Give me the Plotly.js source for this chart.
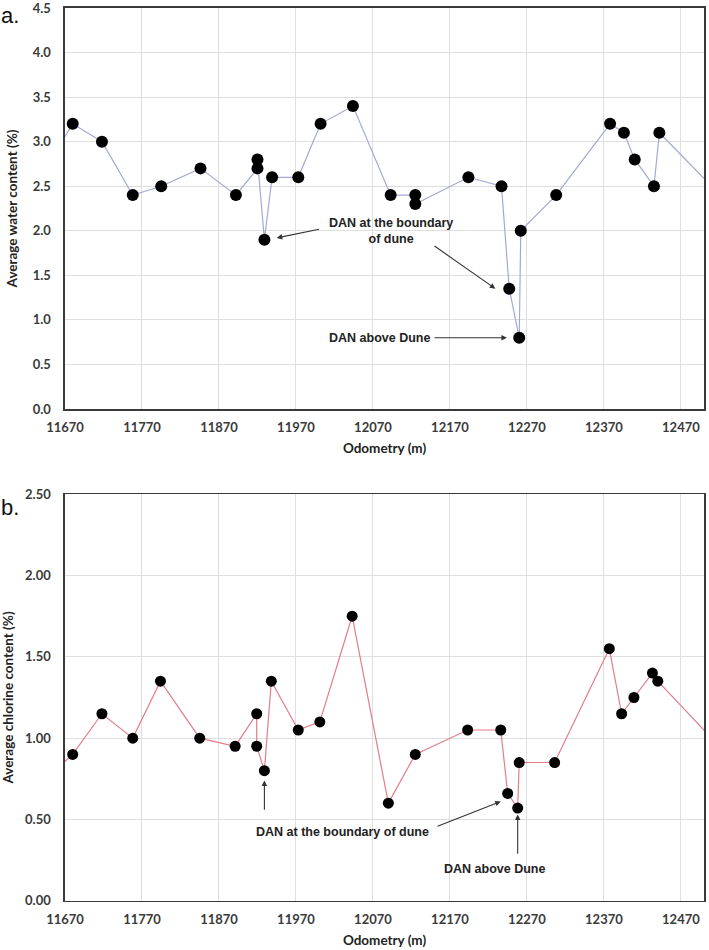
<!DOCTYPE html>
<html>
<head>
<meta charset="utf-8">
<script src="https://cdn.plot.ly/plotly-3.0.1.min.js"></script>
<style>
  html, body { margin: 0; padding: 0; background: #fff; }
  #chart { width: 709px; height: 950px; }
</style>
</head>
<body>
<div id="chart"></div>
<script>
// Panel a: average water content (%) vs odometry (m)
const waterOdometry = [11650, 11680, 11718, 11758, 11795, 11846, 11892, 11920, 11920, 11929, 11939, 11973, 12002, 12044, 12093, 12125, 12125, 12194, 12237, 12247, 12260, 12262, 12308, 12378, 12396, 12410, 12435, 12442, 12560];
const waterContent  = [2.78, 3.2, 3.0, 2.4, 2.5, 2.7, 2.4, 2.7, 2.8, 1.9, 2.6, 2.6, 3.2, 3.4, 2.4, 2.4, 2.3, 2.6, 2.5, 1.35, 0.8, 2.0, 2.4, 3.2, 3.1, 2.8, 2.5, 3.1, 2.06];

// Panel b: average chlorine content (%) vs odometry (m)
const chlorineOdometry = [11650, 11680, 11718, 11758, 11794, 11845, 11891, 11919, 11919, 11929, 11938, 11973, 12001, 12043, 12090, 12125, 12193, 12236, 12245, 12258, 12260, 12306, 12377, 12393, 12409, 12433, 12440, 12560];
const chlorineContent  = [0.77, 0.9, 1.15, 1.0, 1.35, 1.0, 0.95, 1.15, 0.95, 0.8, 1.35, 1.05, 1.1, 1.75, 0.6, 0.9, 1.05, 1.05, 0.66, 0.57, 0.85, 0.85, 1.55, 1.15, 1.25, 1.4, 1.35, 0.75];

const xTickVals = [11670, 11770, 11870, 11970, 12070, 12170, 12270, 12370, 12470];
const xRange = [11670, 12500];

const tickFont = { family: 'Lato, "Open Sans", sans-serif', size: 13, color: '#3a3a3a', weight: 'bold' };
const titleFont = { family: 'Lato, "Open Sans", sans-serif', size: 13.5, color: '#222', weight: 'bold' };
const noteFont = { family: '"Liberation Sans", Arial, sans-serif', size: 12.5, color: '#222', weight: 'bold' };

const traces = [
  {
    x: waterOdometry, y: waterContent, xaxis: 'x', yaxis: 'y',
    type: 'scatter', mode: 'lines+markers',
    line: { color: '#a3a9d6', width: 1.2 },
    marker: { color: '#000', size: 12 },
    cliponaxis: true, hoverinfo: 'x+y'
  },
  {
    x: chlorineOdometry, y: chlorineContent, xaxis: 'x2', yaxis: 'y2',
    type: 'scatter', mode: 'lines+markers',
    line: { color: '#e27d89', width: 1.2 },
    marker: { color: '#000', size: 11 },
    cliponaxis: true, hoverinfo: 'x+y'
  }
];

function xAxis(anchor) {
  return {
    anchor: anchor, range: xRange, tickmode: 'array', tickvals: xTickVals,
    ticktext: xTickVals.map(String),
    showgrid: true, gridcolor: '#dedede', gridwidth: 1,
    showline: true, mirror: true, linecolor: '#3a3a3a', linewidth: 1.6,
    ticks: 'outside', ticklen: 6, tickcolor: 'rgba(0,0,0,0)',
    tickfont: tickFont, zeroline: false, ticklabeloverflow: 'allow',
    title: { text: 'Odometry (m)', font: titleFont, standoff: 9 }
  };
}
function yAxis(anchor, domain, range, fmt, title) {
  return {
    anchor: anchor, domain: domain, range: range, dtick: 0.5, tick0: 0,
    tickformat: fmt,
    showgrid: true, gridcolor: '#dedede', gridwidth: 1,
    showline: true, mirror: true, linecolor: '#3a3a3a', linewidth: 1.6,
    ticks: 'outside', ticklen: 10, tickcolor: 'rgba(0,0,0,0)',
    tickfont: tickFont, zeroline: false, ticklabeloverflow: 'allow',
    title: { text: title, font: titleFont, standoff: 12 }
  };
}

const arrowCommon = { showarrow: true, arrowhead: 2, arrowsize: 1, arrowwidth: 1.1, arrowcolor: '#333', text: '' };

const layout = {
  width: 709, height: 950,
  margin: { l: 65, r: 5, t: 0, b: 0 },
  paper_bgcolor: '#fff', plot_bgcolor: '#fff',
  showlegend: false,
  xaxis: Object.assign(xAxis('y'), { domain: [0, 1] }),
  yaxis: yAxis('x', [0.5695, 0.9916], [0, 4.5], '.1f', 'Average water content (%)'),
  xaxis2: Object.assign(xAxis('y2'), { domain: [0, 1] }),
  yaxis2: yAxis('x2', [0.0519, 0.4797], [0, 2.5], '.2f', 'Average chlorine content (%)'),
  annotations: [
    // panel labels
    { xref: 'paper', yref: 'paper', x: -0.1, y: 0.9916, xanchor: 'left', yanchor: 'middle', text: 'a.', showarrow: false,
      font: { family: '"Liberation Sans", Arial, sans-serif', size: 22, color: '#111' }, xshift: -2, yshift: -8 },
    { xref: 'paper', yref: 'paper', x: -0.1, y: 0.4797, xanchor: 'left', yanchor: 'middle', text: 'b.', showarrow: false,
      font: { family: '"Liberation Sans", Arial, sans-serif', size: 22, color: '#111' }, xshift: -2, yshift: -13 },

    // panel a notes
    { xref: 'x', yref: 'y', x: 12093, y: 2.0, text: 'DAN at the boundary<br>of dune', showarrow: false, font: noteFont, align: 'center' },
    Object.assign({ xref: 'x', yref: 'y', axref: 'x', ayref: 'y', x: 11945, y: 1.92, ax: 12002, ay: 2.02 }, arrowCommon),
    Object.assign({ xref: 'x', yref: 'y', axref: 'x', ayref: 'y', x: 12229, y: 1.35, ax: 12148, ay: 1.84 }, arrowCommon),
    { xref: 'x', yref: 'y', x: 12078, y: 0.8, text: 'DAN above Dune', showarrow: false, font: noteFont },
    Object.assign({ xref: 'x', yref: 'y', axref: 'x', ayref: 'y', x: 12244, y: 0.8, ax: 12148, ay: 0.8 }, arrowCommon),

    // panel b notes
    Object.assign({ xref: 'x2', yref: 'y2', axref: 'x2', ayref: 'y2', x: 11929, y: 0.74, ax: 11929, ay: 0.55 }, arrowCommon),
    { xref: 'x2', yref: 'y2', x: 12030, y: 0.42, text: 'DAN at the boundary of dune', showarrow: false, font: noteFont },
    Object.assign({ xref: 'x2', yref: 'y2', axref: 'x2', ayref: 'y2', x: 12236, y: 0.61, ax: 12152, ay: 0.455 }, arrowCommon),
    { xref: 'x2', yref: 'y2', x: 12228, y: 0.195, text: 'DAN above Dune', showarrow: false, font: noteFont },
    Object.assign({ xref: 'x2', yref: 'y2', axref: 'x2', ayref: 'y2', x: 12258, y: 0.53, ax: 12258, ay: 0.28 }, arrowCommon)
  ]
};

Plotly.newPlot('chart', traces, layout, { displayModeBar: false, staticPlot: true });
</script>
</body>
</html>
